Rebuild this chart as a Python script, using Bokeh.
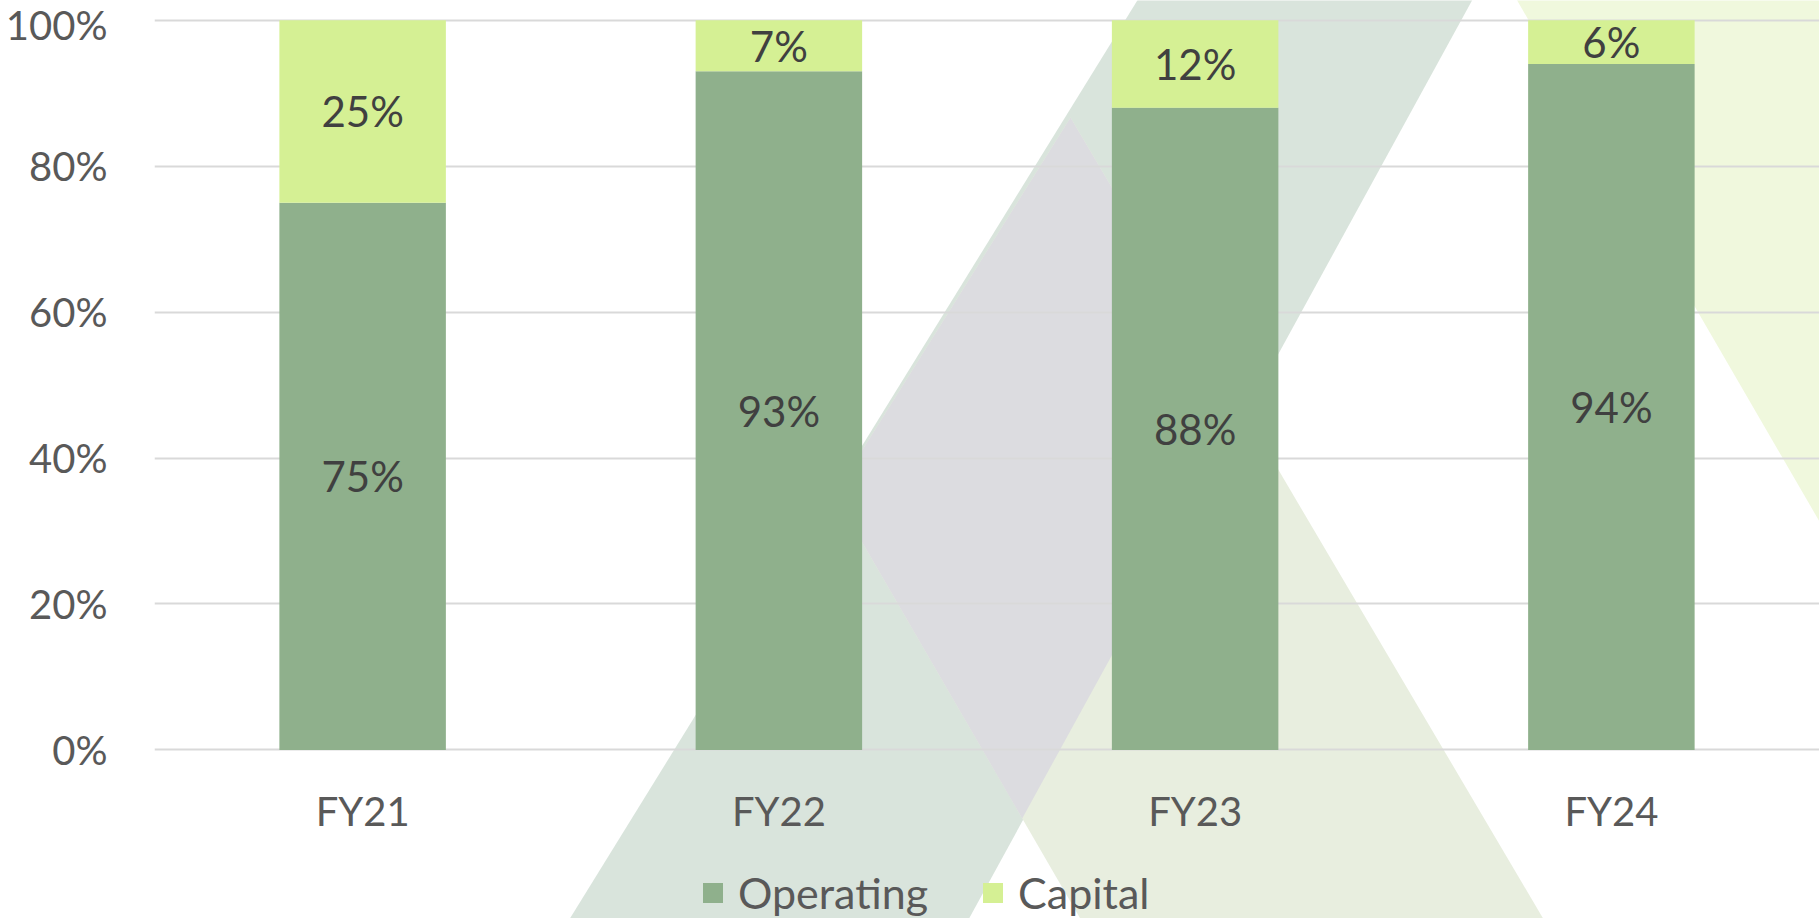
from bokeh.plotting import figure
from bokeh.models import (ColumnDataSource, Legend, LegendItem,
                          NumeralTickFormatter, FixedTicker, Range1d)
from bokeh.core.properties import value
from bokeh.embed import file_html
from bokeh.resources import INLINE

# ---- data ----
categories = ["FY21", "FY22", "FY23", "FY24"]
operating = [75, 93, 88, 94]
capital = [25, 7, 12, 6]
series = ["Operating", "Capital"]
y_ticks = [0, 0.2, 0.4, 0.6, 0.8, 1.0]

# ---- styles / layout ----
colors = {"Operating": "#8FB08C", "Capital": "#D5F094"}
FONT = "Lato"
W, H = 1819, 918
LEFT = 154           # frame left inside the figure
PLOT_TOP = 19.7      # pixel row of 100% inside the figure
PLOT_BOT = 749.4     # pixel row of 0% inside the figure
PX_PER_UNIT = PLOT_BOT - PLOT_TOP
y_lo = -(H - PLOT_BOT) / PX_PER_UNIT
y_hi = 1 + PLOT_TOP / PX_PER_UNIT

src = ColumnDataSource(dict(
    x=categories,
    Operating=[v / 100 for v in operating],
    Capital=[v / 100 for v in capital],
))

p = figure(x_range=categories, y_range=Range1d(y_lo, y_hi),
           width=W, height=H, output_backend="svg", toolbar_location=None,
           min_border_left=LEFT, min_border_right=0, min_border_top=0,
           min_border_bottom=0)
p.outline_line_color = None
p.background_fill_color = "white"
p.border_fill_color = "white"

# ---- background artwork (slide decoration), given in page pixels ----
slot = (W - LEFT) / len(categories)
def to_data(pts):
    xs = [(x - LEFT) / slot for x, _ in pts]
    ys = [(PLOT_BOT - y) / PX_PER_UNIT for _, y in pts]
    return xs, ys

deco = [
    ([(1143, -10), (1477, -10), (962, 930), (562, 930)], "#D9E4DC"),
    ([(1070, 117), (1549.7, 930), (1086.7, 930), (834, 494)], "#E8EEDF"),
    ([(1070, 117), (1244.5, 412.6), (1021.7, 818), (834, 494)], "#DCDCE0"),
    ([(1510.9, -10), (1830, -10), (1830, 540)], "#F0F8DD"),
]
dxs, dys, dcs = [], [], []
for pts, c in deco:
    xs, ys = to_data(pts)
    dxs.append(xs); dys.append(ys); dcs.append(c)
p.patches(xs=dxs, ys=dys, fill_color=dcs, line_color=None, level="image")

# ---- bars ----
rs = p.vbar_stack(series, x="x", width=0.4, source=src,
                  color=[colors[s] for s in series], line_color=None)

# ---- data labels ----
lab_x, lab_y, lab_t = [], [], []
for c, o, k in zip(categories, operating, capital):
    lab_x += [c, c]
    lab_y += [o / 200, (o + k / 2) / 100]
    lab_t += [f"{o}%", f"{k}%"]
p.text(x=lab_x, y=lab_y, text=lab_t, text_align="center", text_baseline="middle",
       text_font=value(FONT), text_font_size=value("42px"), text_color="#404040")

# ---- axes / grid ----
p.xgrid.visible = False
p.ygrid.grid_line_color = "#D9D9D9"
p.ygrid.grid_line_width = 2
p.yaxis.ticker = FixedTicker(ticks=y_ticks)
p.ygrid.ticker = FixedTicker(ticks=y_ticks)
p.yaxis.formatter = NumeralTickFormatter(format="0%")
for ax in (p.xaxis, p.yaxis):
    ax.axis_line_color = None
    ax.major_tick_line_color = None
    ax.minor_tick_line_color = None
    ax.major_label_text_font = FONT
    ax.major_label_text_color = "#595959"
    ax.major_label_text_font_size = "40px"
p.xaxis.fixed_location = 0
p.xaxis.major_label_standoff = 31
p.yaxis.major_label_standoff = 41

# ---- legend ----
legend = Legend(items=[LegendItem(label=s, renderers=[r]) for s, r in zip(series, rs)],
                orientation="horizontal", location=(546, 0),
                glyph_width=25, glyph_height=25, label_standoff=13, spacing=52,
                padding=0, margin=0, border_line_color=None,
                background_fill_alpha=0,
                label_text_font=FONT, label_text_font_size="43px",
                label_text_color="#595959")
p.add_layout(legend)

open("out.html", "w").write(file_html(p, INLINE))
